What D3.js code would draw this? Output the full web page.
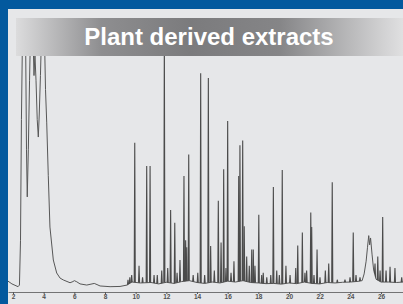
<!DOCTYPE html>
<html>
<head>
<meta charset="utf-8">
<script src="https://cdn.jsdelivr.net/npm/d3@7/dist/d3.min.js"></script>
<style>
  html, body { margin: 0; padding: 0; background: #e6e7e9; }
  svg { display: block; }
</style>
</head>
<body>
<div id="chart"></div>
<script>
'use strict';

// retention time (min) / detector response (0-100, clipped at the top)
var titleText = 'Plant derived extracts';
var tickLabels = [2, 4, 6, 8, 10, 12, 14, 16, 18, 20, 22, 24, 26];

// continuous trace: solvent front, baseline and the broad hump near 25 min
var baseTimes = [1.67, 1.93, 2.33, 2.42, 2.49, 2.55, 2.62, 2.82, 2.88, 2.93, 3.0, 3.08, 3.14, 3.30,
  3.37, 3.43, 3.50, 3.58, 3.65, 3.71, 3.79, 3.86, 4.05, 4.12, 4.20, 4.30, 4.41, 4.63, 4.85, 5.07,
  5.28, 5.72, 5.91, 6.0, 6.16, 6.37, 6.81, 7.3, 7.48, 7.68, 8.33, 8.98, 9.44, 9.76, 10.3, 11.0,
  11.5, 12.0, 12.5, 13.0, 13.5, 14.0, 14.5, 15.0, 15.5, 16.0, 16.5, 17.0, 17.5, 18.0, 18.5, 19.0,
  19.5, 20.0, 20.5, 21.0, 21.5, 22.0, 22.5, 23.0, 23.5, 24.0, 24.5, 24.77, 24.9, 25.03, 25.12,
  25.2, 25.26, 25.32, 25.42, 25.52, 25.68, 26.0, 26.5, 27.0, 27.45];
var baseValues = [3.4, 2.2, 1.0, 1.7, 21, 73, 110, 110, 60, 39.7, 60, 90, 110, 110,
  92, 101, 90, 73, 65.5, 75, 92, 110, 110, 86, 71.6, 49, 26.7, 12.5, 6.9, 4.7,
  3.9, 2.7, 3.2, 3.6, 3.1, 2.2, 1.7, 2.4, 1.9, 1.3, 1.0, 1.1, 1.7, 3.0, 2.6, 2.8,
  2.2, 2.9, 2.4, 3.2, 3.6, 2.8, 2.4, 3.0, 2.6, 3.4, 3.0, 3.6, 2.8, 2.6, 2.3, 2.4,
  2.1, 2.6, 2.3, 3.0, 2.4, 2.2, 2.8, 2.6, 2.9, 3.0, 3.3, 3.6, 6.5, 12, 18,
  23, 19, 22, 14.7, 8.2, 4.2, 3.0, 3.0, 2.8, 3.0];

// sharp peaks
var peakTimes = [9.50, 9.62, 9.74, 9.94, 10.22, 10.45, 10.72, 10.94, 11.20, 11.41, 11.70, 11.87,
  12.09, 12.28, 12.55, 12.70, 12.89, 13.15, 13.26, 13.33, 13.46, 13.75, 14.05, 14.24, 14.50,
  14.74, 14.89, 15.13, 15.39, 15.57, 15.74, 15.89, 16.00, 16.22, 16.41, 16.72, 16.80, 16.98,
  17.08, 17.24, 17.41, 17.57, 17.67, 17.78, 18.03, 18.22, 18.32, 18.55, 18.81, 18.98, 19.20,
  19.37, 19.56, 19.80, 20.07, 20.44, 20.57, 20.87, 21.04, 21.15, 21.42, 21.48, 21.63, 21.83,
  22.02, 22.37, 22.59, 22.82, 23.15, 23.65, 23.98, 24.19, 24.37, 24.63, 25.61, 25.79, 25.94,
  26.11, 26.33, 26.59, 26.91, 27.35];
var peakHeights = [4, 5, 6, 63, 10, 5, 53, 53, 6, 6, 8, 110,
  9, 34, 28.6, 7, 12.5, 48.7, 21, 18, 58, 6, 7, 93, 6,
  91, 18.5, 8, 38, 20, 51.6, 9, 72.4, 7, 12, 48.7, 62, 64,
  27, 14, 10, 17, 17, 10, 32, 6, 7, 5, 6, 44, 8,
  6, 51.3, 10, 6, 9, 18.7, 24.4, 7, 8, 33, 26.7, 6, 17,
  5, 8, 11, 46, 4, 4, 5, 24.3, 6, 5, 11, 14, 8,
  31, 8, 9.6, 9, 5];

var width = 403, height = 304;
var plotLeft = 8, plotTop = 56, plotBottom = 292;

var svg = d3.select('#chart')
  .append('svg')
  .attr('width', width)
  .attr('height', height);

var defs = svg.append('defs');

var grad = defs.append('linearGradient')
  .attr('id', 'banner')
  .attr('x1', '0%').attr('x2', '100%')
  .attr('y1', '0%').attr('y2', '0%');
[['0%', '#dcdcdd'], ['22%', '#8e8e90'], ['45%', '#7b7b7d'], ['68%', '#858587'], ['100%', '#e0e0e1']]
  .forEach(function(s) {
    grad.append('stop').attr('offset', s[0]).attr('stop-color', s[1]);
  });

defs.append('clipPath')
  .attr('id', 'plotClip')
  .append('rect')
  .attr('x', plotLeft)
  .attr('y', plotTop)
  .attr('width', width - plotLeft)
  .attr('height', plotBottom - plotTop);

// frame
svg.append('rect')
  .attr('width', width).attr('height', height)
  .style('fill', '#e6e7e9');
svg.append('rect')
  .attr('width', width).attr('height', 9)
  .style('fill', '#03599e');
svg.append('rect')
  .attr('width', 8).attr('height', height)
  .style('fill', '#03599e');

// title banner
svg.append('rect')
  .attr('x', 16).attr('y', 18)
  .attr('width', width - 16).attr('height', 38)
  .style('fill', 'url(#banner)');

svg.append('text')
  .attr('x', 209)
  .attr('y', 45)
  .attr('text-anchor', 'middle')
  .style('font-family', '"Liberation Sans", Arial, Helvetica, sans-serif')
  .style('font-weight', 'bold')
  .style('font-size', '24px')
  .style('fill', '#ffffff')
  .text(titleText);

// scales: 2 min at x=13, 26 min at x=381
var pxPerMin = (381 - 13) / 24;
var x = d3.scaleLinear()
  .domain([2 - (13 - plotLeft) / pxPerMin, 2 + (width - 13) / pxPerMin])
  .range([plotLeft, width]);

var y = d3.scaleLinear()
  .domain([0, 100])
  .range([289, 57]);

// baseline level at any time, used for the foot of each peak
var baseAt = d3.scaleLinear()
  .domain(baseTimes)
  .range(baseValues);

var plot = svg.append('g')
  .attr('clip-path', 'url(#plotClip)');

var line = d3.line()
  .x(function(d) { return x(d[0]); })
  .y(function(d) { return y(d[1]); });

plot.append('path')
  .datum(d3.zip(baseTimes, baseValues))
  .attr('d', line)
  .style('fill', 'none')
  .style('stroke', '#575757')
  .style('stroke-width', 1)
  .style('stroke-linejoin', 'round');

var halfWidth = 0.035;
plot.selectAll('path.peak')
  .data(d3.zip(peakTimes, peakHeights))
  .enter()
  .append('path')
  .attr('class', 'peak')
  .attr('d', function(d) {
    return line([
      [d[0] - halfWidth, baseAt(d[0] - halfWidth)],
      [d[0], d[1]],
      [d[0] + halfWidth, baseAt(d[0] + halfWidth)]
    ]);
  })
  .style('fill', 'none')
  .style('stroke', '#4b4b4b')
  .style('stroke-width', 1.1)
  .style('stroke-linejoin', 'miter');

// time axis
var axis = d3.axisBottom(x)
  .tickValues(tickLabels)
  .tickSize(2)
  .tickPadding(0)
  .tickSizeOuter(0);

var axisG = svg.append('g')
  .attr('transform', 'translate(0,' + plotBottom + ')')
  .call(axis);

axisG.select('.domain')
  .style('stroke', '#555')
  .style('stroke-width', 0.8);
axisG.selectAll('.tick line')
  .style('stroke', '#555');
axisG.selectAll('.tick text')
  .style('font-family', '"Liberation Sans", Arial, sans-serif')
  .style('font-size', '6.5px')
  .style('font-weight', 'bold')
  .style('fill', '#505050');
</script>
</body>
</html>
